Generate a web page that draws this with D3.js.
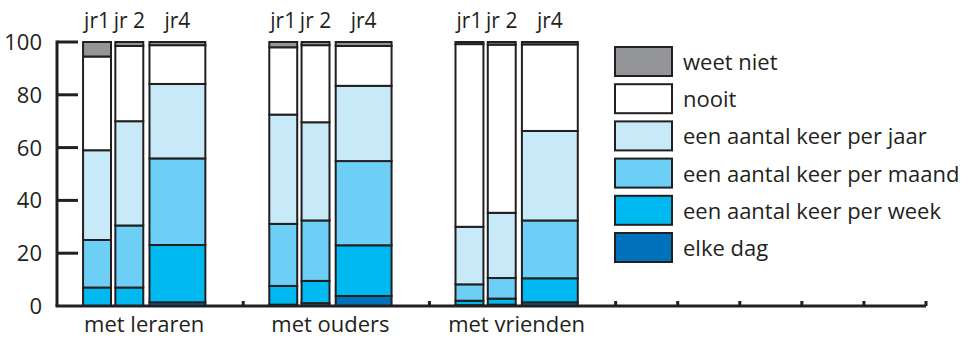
<!DOCTYPE html>
<html>
<head>
<meta charset="utf-8">
<script src="https://cdn.jsdelivr.net/npm/d3@7"></script>
<style>
  body { margin: 0; background: #fff; }
  text { font-family: "Open Sans", "Noto Sans", sans-serif; fill: #231f20; }
</style>
</head>
<body>
<div id="chart"></div>
<script>
// groups and years
const groups = ["met leraren", "met ouders", "met vrienden"];
const years = ["jr1", "jr 2", "jr4"];

// legend categories (bottom to top in the stack)
const categories = ["elke dag", "een aantal keer per week", "een aantal keer per maand",
  "een aantal keer per jaar", "nooit", "weet niet"];
const colors = ["#0072bc", "#00b9f1", "#6dcff6", "#c7e9f8", "#ffffff", "#939598"];

// values per bar: leraren jr1, jr2, jr4, ouders jr1, jr2, jr4, vrienden jr1, jr2, jr4
const elkeDag   = [0,    0,    1.4,  0.5,  1.1,  3.8,  0.3,  0.5,  1.4];
const perWeek   = [7,    7,    21.7, 7.1,  8.4,  19.2, 1.7,  2.3,  9.1];
const perMaand  = [18,   23.5, 32.8, 23.5, 22.9, 31.9, 6.2,  7.8,  21.9];
const perJaar   = [34,   39.5, 28.2, 41.4, 37.2, 28.5, 21.8, 24.7, 33.9];
const nooit     = [35.5, 28.5, 14.7, 25.5, 29.2, 15.1, 69.2, 63.7, 32.8];
const weetNiet  = [5.5,  1.5,  1.2,  2,    1.2,  1.5,  0.8,  1,    0.9];

const yTicks = [0, 20, 40, 60, 80, 100];

const series = [elkeDag, perWeek, perMaand, perJaar, nooit, weetNiet];
const rows = [];
groups.forEach((g, gi) => {
  years.forEach((yr, yi) => {
    let row = { group: g, gi: gi, year: yr, yi: yi };
    categories.forEach((c, ci) => { row[c] = series[ci][gi * 3 + yi]; });
    rows.push(row);
  });
});

const w = 972, h = 339;
const ink = "#231f20";

const svg = d3.select("#chart").append("svg").attr("width", w).attr("height", h);

// 14 slots along the x axis, each group takes 3
const x = d3.scaleLinear().domain([0, 14]).range([57, 926]);
const y = d3.scaleLinear().domain([0, 100]).range([306, 42]);

// bar placement inside a group (slot units)
const barStart = [0.42, 0.94, 1.49];
const barWidth = [0.45, 0.45, 0.9];
const bx0 = d => x(d.gi * 3 + barStart[d.yi]);
const bx1 = d => x(d.gi * 3 + barStart[d.yi] + barWidth[d.yi]);

const stacked = d3.stack().keys(categories)(rows);

const layers = svg.append("g").selectAll("g")
  .data(stacked)
  .join("g")
  .attr("fill", (d, i) => colors[i]);

layers.selectAll("rect")
  .data(d => d)
  .join("rect")
  .attr("x", d => bx0(d.data))
  .attr("width", d => bx1(d.data) - bx0(d.data))
  .attr("y", d => y(d[1]))
  .attr("height", d => y(d[0]) - y(d[1]))
  .attr("stroke", ink)
  .attr("stroke-width", 2);

// y axis (ticks point inward)
const yAxis = svg.append("g").attr("transform", `translate(${x(0)},0)`);
yAxis.append("line")
  .attr("x1", 0).attr("x2", 0).attr("y1", y(100) - 1.5).attr("y2", y(0))
  .attr("stroke", ink).attr("stroke-width", 3);
yAxis.selectAll(".tk").data(yTicks.filter(t => t > 0)).join("line")
  .attr("x1", 0).attr("x2", 21)
  .attr("y1", d => y(d)).attr("y2", d => y(d))
  .attr("stroke", ink).attr("stroke-width", 3);
yAxis.selectAll("text").data(yTicks).join("text")
  .attr("x", -15).attr("y", d => y(d))
  .attr("dy", "0.36em")
  .attr("text-anchor", "end")
  .attr("font-size", 22)
  .text(d => d);

// x axis with small upward ticks
const xAxis = svg.append("g");
xAxis.append("line")
  .attr("x1", x(0) - 1.5).attr("x2", x(14)).attr("y1", y(0)).attr("y2", y(0))
  .attr("stroke", ink).attr("stroke-width", 3);
xAxis.selectAll(".tk").data([3, 6, 9, 10, 11, 12, 13, 14]).join("line")
  .attr("x1", d => x(d)).attr("x2", d => x(d))
  .attr("y1", y(0)).attr("y2", y(0) - 5)
  .attr("stroke", ink).attr("stroke-width", 3);

// year labels above bars
svg.append("g").selectAll("text").data(rows).join("text")
  .attr("x", d => (bx0(d) + bx1(d)) / 2)
  .attr("y", 28)
  .attr("text-anchor", "middle")
  .attr("font-size", 21)
  .text(d => d.year);

// group labels
svg.append("g").selectAll("text").data(groups).join("text")
  .attr("x", (d, i) => (x(i * 3 + barStart[0]) + x(i * 3 + barStart[2] + barWidth[2])) / 2)
  .attr("y", 332)
  .attr("text-anchor", "middle")
  .attr("font-size", 22)
  .text(d => d);

// legend, top entry first
const legend = svg.append("g").attr("transform", "translate(615,47)");
const legItems = categories.map((c, i) => ({ name: c, color: colors[i] })).reverse();
const lg = legend.selectAll("g").data(legItems).join("g")
  .attr("transform", (d, i) => `translate(0,${i * 37.2})`);
lg.append("rect")
  .attr("width", 57).attr("height", 29)
  .attr("fill", d => d.color)
  .attr("stroke", ink).attr("stroke-width", 2);
lg.append("text")
  .attr("x", 68).attr("y", 15)
  .attr("dy", "0.36em")
  .attr("font-size", 22)
  .text(d => d.name);
</script>
</body>
</html>
